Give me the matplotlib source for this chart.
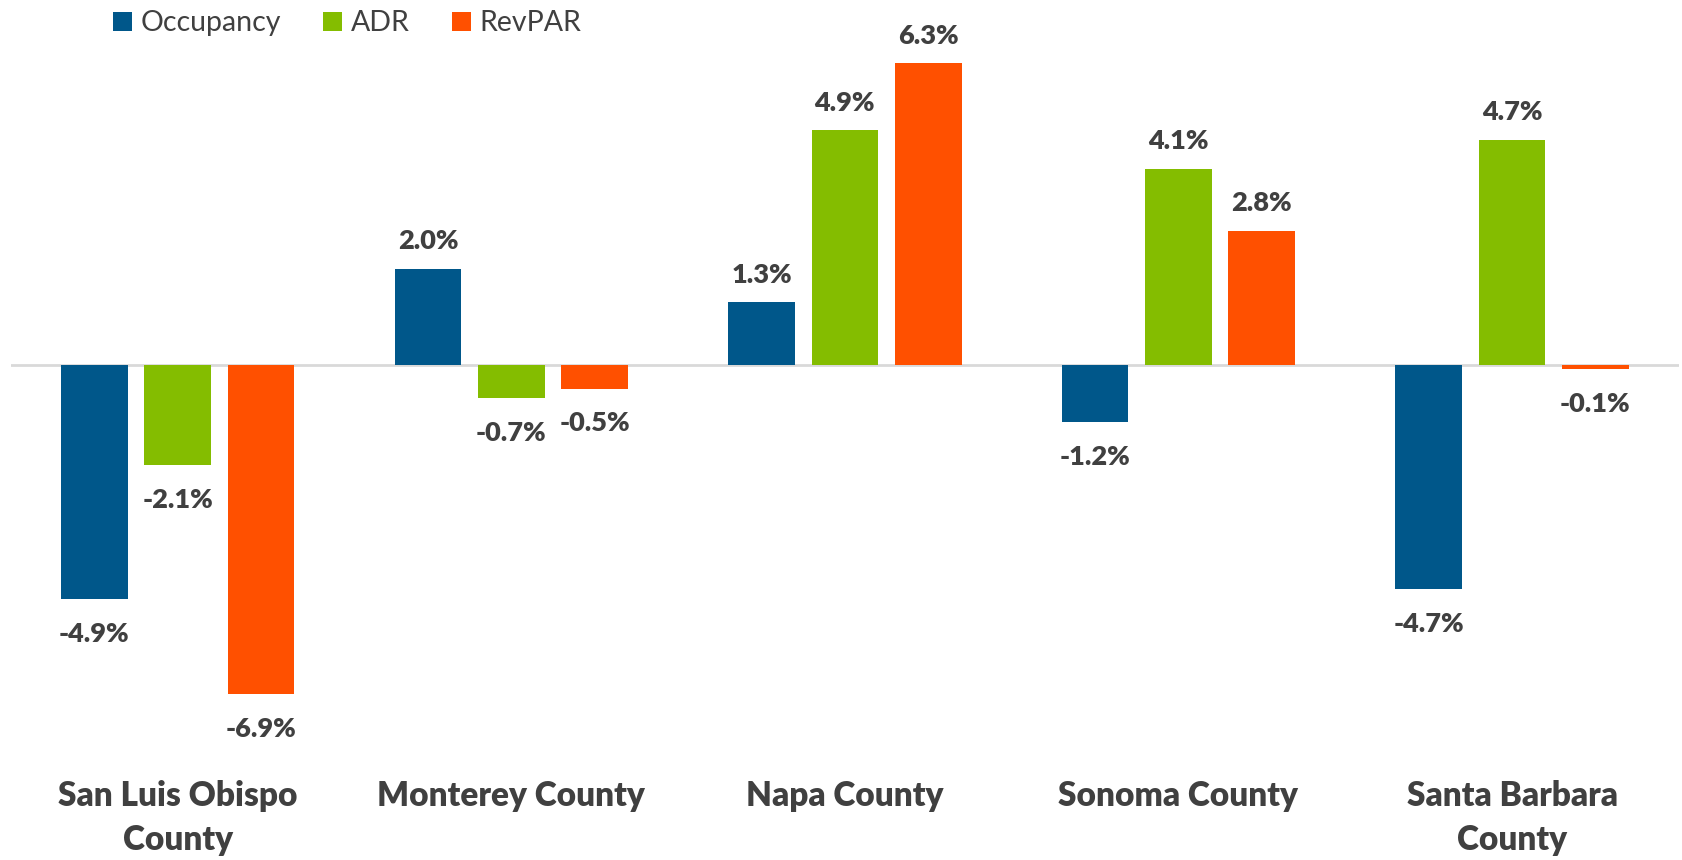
import numpy as np
import matplotlib.pyplot as plt

plt.rcParams['font.family'] = ['Lato', 'DejaVu Sans']

counties = ["San Luis Obispo\nCounty", "Monterey County", "Napa County",
            "Sonoma County", "Santa Barbara\nCounty"]
occupancy = [-4.9, 2.0, 1.3, -1.2, -4.7]
adr = [-2.1, -0.7, 4.9, 4.1, 4.7]
revpar = [-6.9, -0.5, 6.3, 2.8, -0.1]

series = [("Occupancy", occupancy, "#00578A"),
          ("ADR", adr, "#84BD00"),
          ("RevPAR", revpar, "#FF5000")]

fig = plt.figure(figsize=(16.83, 8.6), dpi=100)
ax = fig.add_axes([0.0065, 0.1314, 0.991, 0.8337])

x = np.arange(len(counties))
w = 0.2
step = 0.25
for i, (name, vals, col) in enumerate(series):
    pos = x + (i - 1) * step
    ax.bar(pos, vals, w, color=col, label=name, zorder=3)
    for px, v in zip(pos, vals):
        off = 20 if v >= 0 else -25
        ax.annotate(f"{v:.1f}%", (px, v), xytext=(0, off), textcoords="offset points",
                    ha="center", va="center", fontsize=19.5, fontweight="heavy", color="#404040")

ax.axhline(0, color="#D9D9D9", lw=2, zorder=2)
ax.set_xlim(-0.5, 4.5)
ax.set_ylim(-8, 7)
ax.set_yticks([])
ax.set_xticks(x)
ax.set_xticklabels(counties, fontsize=24, fontweight="heavy", color="#404040", linespacing=1.45)
ax.tick_params(axis="x", length=0, pad=24)
for s in ax.spines.values():
    s.set_visible(False)

fig.legend(loc="upper left", bbox_to_anchor=(0.052, 1.018), ncol=3, frameon=False,
           fontsize=20.5, labelcolor="#404040", handlelength=0.65, handleheight=0.65,
           handletextpad=0.3, columnspacing=1.5)

fig.savefig("out.png", dpi=100)
